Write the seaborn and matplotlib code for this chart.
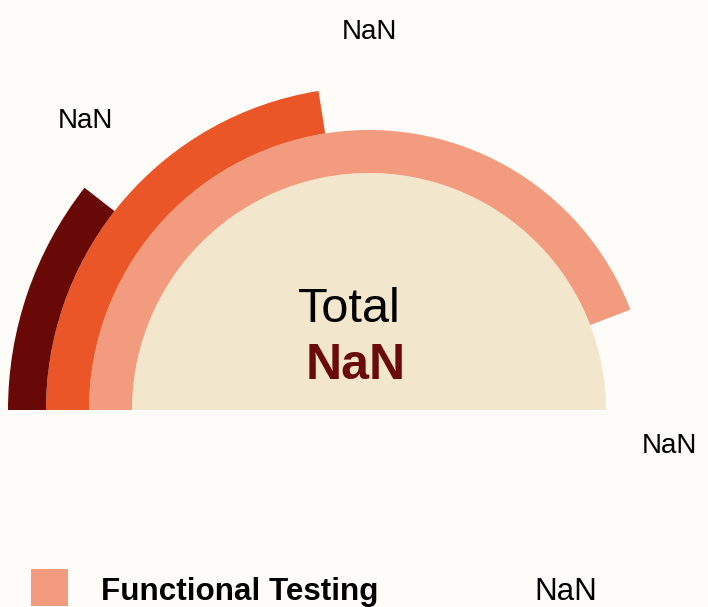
from __future__ import annotations

import matplotlib

matplotlib.use("Agg")
import matplotlib.pyplot as plt
import numpy as np
import seaborn as sns
from matplotlib.patches import Rectangle, Wedge


# data (values are all missing -> "NaN")
CATEGORIES = ["Functional Testing", "Integration Testing", "Unit Testing"]
VALUES = [np.nan, np.nan, np.nan]
ARC_SWEEP_DEG = [159, 81, 38]  # how far each ring runs from the left end
TOTAL_VALUE = np.nan

# layout (pixels, y measured from bottom)
FIG_W, FIG_H = 708, 607
CENTER = (369, 197)
CORE_RADIUS = 237
RING_EDGES = [237, 280, 323, 361]
LABEL_ANGLE_DEG = [-6.8, 90, 134.4]
LABEL_RADIUS = [303, 378, 405]
LEGEND_ROWS_SHOWN = 1  # the rest of the legend falls below the canvas

BG = "#FDFCF8"
CORE_COLOR = "#F2E6CC"
RING_COLORS = ["#F39B7E", "#EA5627", "#680807"]
ACCENT = "#6B0A0A"


def fmt(v: float) -> str:
    return "NaN" if np.isnan(v) else f"{v:,.0f}"


def main() -> None:
    sns.set_theme(style="white")
    plt.rcParams["font.family"] = ["Liberation Sans", "DejaVu Sans"]

    fig = plt.figure(figsize=(FIG_W / 100, FIG_H / 100), dpi=100, facecolor=BG)
    ax = fig.add_axes([0, 0, 1, 1])
    ax.set_facecolor(BG)
    ax.set_xlim(0, FIG_W)
    ax.set_ylim(0, FIG_H)
    ax.set_aspect("equal")
    ax.axis("off")

    ax.add_patch(Wedge(CENTER, CORE_RADIUS, 0, 180, facecolor=CORE_COLOR, edgecolor="none"))

    for i, (sweep, color) in enumerate(zip(ARC_SWEEP_DEG, RING_COLORS)):
        r_in, r_out = RING_EDGES[i], RING_EDGES[i + 1]
        ax.add_patch(
            Wedge(CENTER, r_out, 180 - sweep, 180, width=r_out - r_in, facecolor=color, edgecolor="none")
        )

    for val, ang, rad in zip(VALUES, LABEL_ANGLE_DEG, LABEL_RADIUS):
        t = np.deg2rad(ang)
        ax.text(
            CENTER[0] + rad * np.cos(t),
            CENTER[1] + rad * np.sin(t),
            fmt(val),
            ha="center",
            va="center",
            fontsize=20,
            color="black",
        )

    ax.text(349, FIG_H - 309, "Total", ha="center", va="center", fontsize=35, color="black")
    ax.text(356, FIG_H - 366, fmt(TOTAL_VALUE), ha="center", va="center", fontsize=36,
            fontweight="bold", color=ACCENT)

    rows = list(zip(CATEGORIES, VALUES, RING_COLORS))[:LEGEND_ROWS_SHOWN]
    for i, (cat, val, color) in enumerate(rows):
        y = FIG_H - 587 - i * 60
        ax.add_patch(Rectangle((31, y - 18.5), 37, 37, facecolor=color, edgecolor="none"))
        ax.text(101, y - 5, cat, ha="left", va="center", fontsize=22.6, fontweight="bold", color="black")
        ax.text(566, y - 5, fmt(val), ha="center", va="center", fontsize=22.6, color="black")

    fig.savefig("out.png", dpi=100, facecolor=BG)
    plt.close(fig)


if __name__ == "__main__":
    main()
